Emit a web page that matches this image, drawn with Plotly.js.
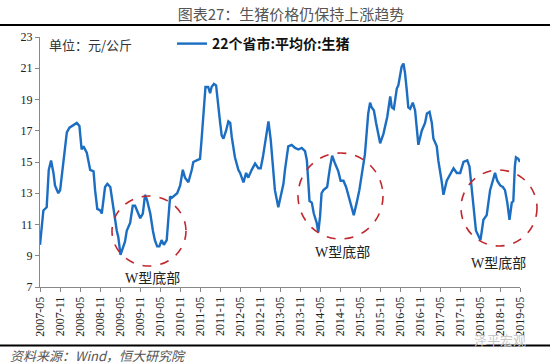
<!DOCTYPE html>
<html>
<head>
<meta charset="utf-8">
<script src="https://cdn.plot.ly/plotly-3.0.1.min.js"></script>
<style>html,body{margin:0;padding:0;background:#fff;}#chart{width:550px;height:364px;}</style>
</head>
<body>
<div id="chart"></div>
<script>
// ---- data ----
const dates = [
'2007-05-01','2007-06-01','2007-07-01','2007-07-20','2007-08-10','2007-09-01','2007-09-15','2007-10-15','2007-11-01','2007-12-15',
'2008-01-01','2008-01-25','2008-02-15','2008-04-01','2008-04-25','2008-05-15','2008-06-01','2008-07-01','2008-08-01','2008-09-01',
'2008-09-15','2008-10-05','2008-11-01','2008-11-15','2008-12-15','2009-01-05','2009-02-01','2009-03-01','2009-03-15','2009-04-01',
'2009-04-15','2009-04-25','2009-05-05','2009-06-15','2009-07-01','2009-08-01','2009-08-25','2009-09-15','2009-10-05','2009-11-01',
'2009-11-25','2009-12-15','2010-01-01','2010-02-01','2010-02-25','2010-03-15','2010-04-05','2010-04-25','2010-05-15','2010-06-05',
'2010-07-01','2010-07-15','2010-08-01','2010-08-15','2010-09-15','2010-10-05','2010-11-01','2010-11-25','2010-12-15','2011-01-15',
'2011-02-15','2011-03-01','2011-04-01','2011-05-01','2011-05-15','2011-06-01','2011-06-20','2011-07-15','2011-08-01','2011-08-15',
'2011-09-05','2011-09-25','2011-10-15','2011-11-01','2011-11-15','2011-12-01','2011-12-25','2012-01-15','2012-02-01','2012-02-15',
'2012-03-15','2012-04-15','2012-05-01','2012-06-01','2012-06-25','2012-07-15','2012-08-15','2012-09-15','2012-10-15','2012-11-05',
'2012-11-25','2012-12-15','2013-01-15','2013-02-05','2013-02-25','2013-03-15','2013-04-15','2013-06-01','2013-06-15','2013-07-15',
'2013-08-15','2013-09-15','2013-10-15','2013-11-15','2013-12-15','2014-01-01','2014-01-15','2014-01-25','2014-02-15','2014-03-05',
'2014-04-01','2014-04-15','2014-05-01','2014-05-15','2014-06-01','2014-07-05','2014-08-01','2014-08-20','2014-09-15','2014-10-15',
'2014-11-05','2014-12-01','2014-12-25','2015-01-15','2015-02-15','2015-03-05','2015-04-01','2015-04-25','2015-05-15','2015-06-15',
'2015-07-15','2015-08-01','2015-08-15','2015-09-05','2015-09-25','2015-11-01','2015-12-01','2016-01-05','2016-02-01','2016-02-15',
'2016-03-05','2016-04-01','2016-04-15','2016-05-01','2016-05-15','2016-06-01','2016-06-15','2016-07-01','2016-07-15','2016-08-01',
'2016-08-25','2016-09-15','2016-10-01','2016-10-15','2016-11-15','2016-12-15','2017-01-01','2017-01-25','2017-02-15','2017-03-01',
'2017-04-01','2017-04-15','2017-05-15','2017-06-01','2017-07-01','2017-08-01','2017-09-01','2017-10-01','2017-11-01','2017-12-01',
'2018-01-05','2018-01-25','2018-02-15','2018-03-01','2018-03-25','2018-04-15','2018-05-05','2018-06-01','2018-07-01','2018-08-01',
'2018-08-25','2018-09-15','2018-10-05','2018-11-01','2018-11-25','2018-12-15','2019-01-05','2019-01-25','2019-02-15','2019-03-01',
'2019-03-15','2019-03-25','2019-04-15','2019-05-01'
];
const prices = [
9.7,11.9,12.1,14.5,15.1,14.3,13.5,13.0,13.2,15.8,
16.9,17.2,17.3,17.5,17.3,15.8,16.0,15.6,14.5,14.4,
13.2,12.0,11.9,11.7,13.4,13.6,13.4,12.1,11.3,10.6,
10.2,9.4,9.05,9.9,10.6,11.1,12.2,12.2,11.8,11.4,
11.7,12.9,12.6,11.7,10.6,10.0,9.6,9.6,10.0,9.7,
10.0,11.5,12.8,12.7,12.9,13.0,13.5,14.5,14.0,13.7,
14.5,15.0,15.1,15.2,16.4,18.1,19.8,19.8,19.4,19.8,
20.0,19.9,18.8,17.5,16.7,16.5,17.0,17.6,17.5,16.6,
15.3,14.5,14.3,13.7,14.3,14.0,14.5,14.9,14.6,14.6,
15.3,16.3,17.6,16.4,14.9,13.2,12.1,13.6,14.5,16.0,
16.1,15.9,15.8,15.9,15.7,15.1,13.6,12.5,12.4,11.7,
11.1,10.5,11.5,13.0,13.2,13.4,14.7,15.4,14.9,14.4,
13.8,13.8,13.4,12.9,12.0,11.6,12.4,13.2,14.1,15.5,
18.1,18.8,18.5,18.3,17.5,16.2,16.8,17.9,19.2,18.5,
18.4,19.7,19.9,20.5,21.1,21.3,20.7,19.6,18.5,18.4,
18.8,18.3,17.3,16.1,17.0,17.5,18.1,18.2,17.5,16.5,
16.0,15.1,13.8,12.9,13.8,14.2,14.6,14.3,14.3,15.0,
15.1,14.7,13.2,12.1,10.6,10.3,10.0,11.3,11.6,13.2,
13.8,14.3,13.8,13.5,13.4,13.2,12.4,11.3,12.4,12.5,
14.7,15.3,15.2,15.0
];
const seriesName = '22个省市:平均价:生猪';
const yTicks = [7,9,11,13,15,17,19,21,23];
const titleText = '图表27：生猪价格仍保持上涨趋势';
const unitText = '单位：元/公斤';
const sourceText = '资料来源：Wind，恒大研究院';
const noteText = 'W型底部';

// ---- pixel helpers for decorations (plot area x 40..520, y 37..287) ----
const PL = 40, PR = 520, PT = 37, PB = 287;
const px = x => (x - PL) / (PR - PL);
const py = y => (PB - y) / (PB - PT);

const serif = '"Liberation Serif", "Times New Roman", serif';
const cjk = '"Noto Sans CJK SC", sans-serif';
const red = '#C0282E';

const circle = (x0, y0, x1, y1) => ({
  type: 'circle', xref: 'paper', yref: 'paper',
  x0: px(x0), x1: px(x1), y0: py(y1), y1: py(y0),
  line: {color: red, width: 1.6, dash: 'dash'}
});
const note = (x, y) => ({
  text: noteText, xref: 'paper', yref: 'paper', x: px(x), y: py(y),
  xanchor: 'center', yanchor: 'middle', showarrow: false,
  font: {family: '"Liberation Serif", "Noto Sans CJK SC", serif', size: 14, color: '#222'}
});

const trace = {
  x: dates, y: prices, type: 'scatter', mode: 'lines', name: '<b>' + seriesName + '</b>',
  line: {color: '#1B6EC2', width: 2.4}
};

const layout = {
  width: 550, height: 364,
  margin: {l: PL, r: 550 - PR, t: PT, b: 364 - PB, pad: 0},
  paper_bgcolor: '#fff', plot_bgcolor: '#fff',
  title: {text: titleText, x: 291/550, xanchor: 'center', y: 1 - 15/364, yanchor: 'middle',
          font: {family: cjk, size: 15, color: '#555'}},
  showlegend: true,
  legend: {x: px(172), y: py(44), xanchor: 'left', yanchor: 'middle', orientation: 'h',
           bgcolor: 'rgba(0,0,0,0)', font: {family: cjk, size: 14, color: '#111'}},
  xaxis: {
    type: 'date', range: ['2007-05-01', '2019-05-01'],
    tick0: '2007-05-01', dtick: 'M6', tickformat: '%Y-%m', tickangle: -90,
    ticks: 'outside', ticklen: 4, tickcolor: '#888', showline: true, linecolor: '#888', linewidth: 1,
    showgrid: false, zeroline: false,
    tickfont: {family: serif, size: 12, color: '#222'}
  },
  yaxis: {
    range: [7, 23], tickvals: yTicks, ticktext: yTicks.map(String),
    ticks: 'outside', ticklen: 4, tickcolor: '#888', showline: true, linecolor: '#888', linewidth: 1,
    showgrid: false, zeroline: false,
    tickfont: {family: serif, size: 12, color: '#222'}
  },
  shapes: [
    {type: 'line', xref: 'paper', yref: 'paper', x0: px(0), x1: px(550), y0: py(25), y1: py(25), line: {color: '#000', width: 2}},
    {type: 'line', xref: 'paper', yref: 'paper', x0: px(0), x1: px(550), y0: py(345.5), y1: py(345.5), line: {color: '#000', width: 2}},
    circle(112, 196, 186, 266),
    circle(298, 153, 383, 239),
    circle(461, 170, 537, 246)
  ],
  annotations: [
    {text: unitText, xref: 'paper', yref: 'paper', x: px(47), y: py(44), xanchor: 'left', yanchor: 'middle',
     showarrow: false, font: {family: cjk, size: 13, color: '#333'}},
    note(152, 278), note(342, 252), note(498, 263),
    {text: sourceText, xref: 'paper', yref: 'paper', x: px(8), y: py(355), xanchor: 'left', yanchor: 'middle',
     showarrow: false, font: {family: cjk, size: 13, color: '#555', style: 'italic'}},
    {text: '泽平宏观', xref: 'paper', yref: 'paper', x: px(500), y: py(339), xanchor: 'center', yanchor: 'middle',
     showarrow: false, font: {family: cjk, size: 13, color: '#c8c8c8'}}
  ]
};

Plotly.newPlot('chart', [trace], layout, {displayModeBar: false, staticPlot: true});
</script>
</body>
</html>
